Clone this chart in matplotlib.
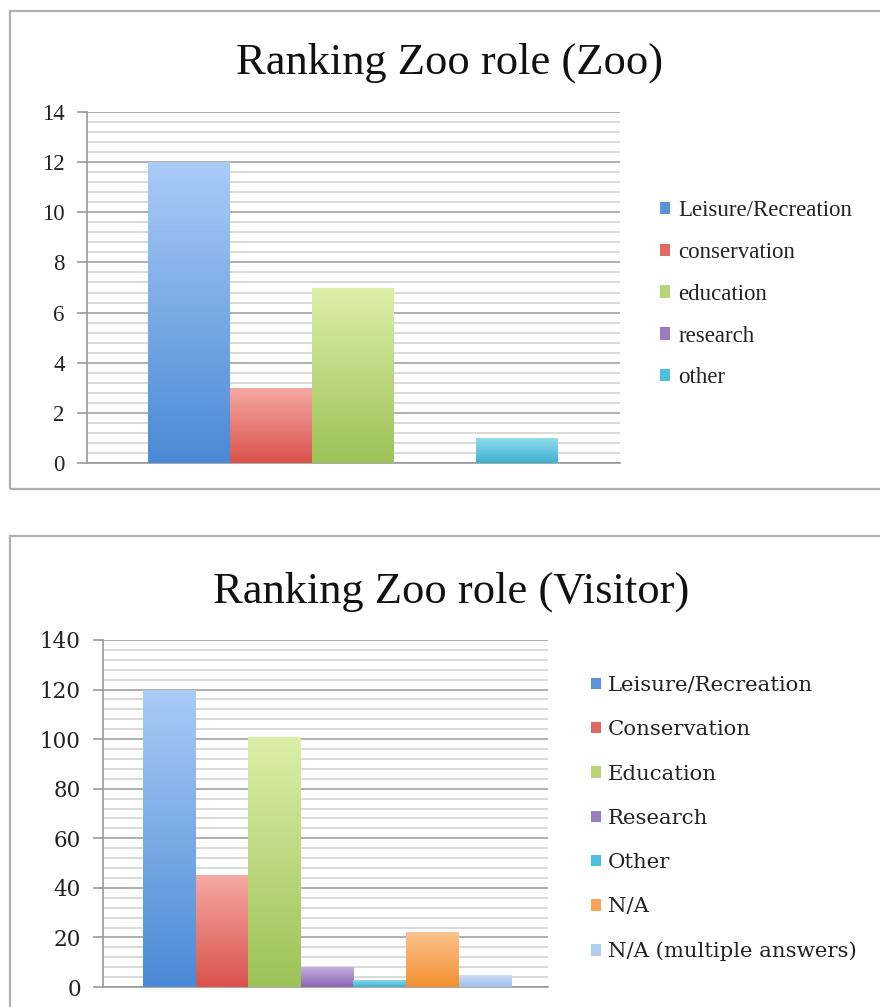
import numpy as np
import matplotlib.pyplot as plt
from matplotlib.colors import LinearSegmentedColormap
from matplotlib.patches import Rectangle
from matplotlib.ticker import MultipleLocator

# data
zoo_labels = ['Leisure/Recreation', 'conservation', 'education', 'research', 'other']
zoo_values = [12, 3, 7, 0, 1]

visitor_labels = ['Leisure/Recreation', 'Conservation', 'Education', 'Research',
                  'Other', 'N/A', 'N/A (multiple answers)']
visitor_values = [120, 45, 101, 8, 3, 22, 5]

# (top colour, bottom colour, legend colour)
zoo_colors = [('#a9cbf6', '#4a8ad6', '#5b93d8'),
              ('#f6a8a3', '#d9534b', '#e06a63'),
              ('#dcefa8', '#9dc257', '#b5d576'),
              ('#c4afde', '#8866b1', '#9c7cc0'),
              ('#95dcef', '#3eb2d0', '#4cc0dc')]
visitor_colors = zoo_colors + [('#fcc28d', '#f39131', '#f8a35a'),
                               ('#cfe0f8', '#a0bfea', '#b3cdf0')]

W, H = 880, 1007
fig = plt.figure(figsize=(W / 100, H / 100), dpi=100)


def fx(px):
    return px / W


def fy(py):
    return 1 - py / H


def draw_panel(ax, labels, values, colors, major, minor, ymax, pad_l, pad_r,
               font, tsize, lsize, leg_xy, leg_space):
    x = np.arange(len(values))
    bars = ax.bar(x, values, width=1.0, color=[c[2] for c in colors],
                  label=labels, zorder=3, linewidth=0)
    # vertical gradient on each bar
    for b, c in zip(bars, colors):
        h = b.get_height()
        if h <= 0:
            continue
        cmap = LinearSegmentedColormap.from_list('g', [c[1], c[0]])
        grad = np.linspace(0, 1, 100).reshape(-1, 1)
        im = ax.imshow(grad, cmap=cmap, origin='lower', aspect='auto',
                       extent=[b.get_x(), b.get_x() + b.get_width(), 0, h],
                       zorder=4)
        im.set_clip_path(b)
    ax.set_xlim(-0.5 - pad_l, len(values) - 0.5 + pad_r)
    ax.set_ylim(0, ymax)
    ax.yaxis.set_major_locator(MultipleLocator(major))
    ax.yaxis.set_minor_locator(MultipleLocator(minor))
    ax.grid(axis='y', which='major', color='#9a9a9a', lw=1.1, zorder=0)
    ax.grid(axis='y', which='minor', color='#cfcfcf', lw=1.1, zorder=0)
    ax.set_axisbelow(True)
    for s in ['top', 'right']:
        ax.spines[s].set_visible(False)
    for s in ['left', 'bottom']:
        ax.spines[s].set_color('#9a9a9a')
        ax.spines[s].set_linewidth(1.2)
    ax.set_xticks([])
    ax.tick_params(axis='y', which='major', length=7, width=1.2, color='#9a9a9a',
                   labelsize=tsize, pad=9)
    ax.tick_params(axis='y', which='minor', length=0)
    for t in ax.get_yticklabels():
        t.set_fontfamily(font)
        t.set_color('#222222')
    ax.legend(loc='upper left', bbox_to_anchor=leg_xy, bbox_transform=fig.transFigure,
              frameon=False, borderpad=0, borderaxespad=0, handlelength=0.45,
              handleheight=0.45, handletextpad=0.35, labelspacing=leg_space,
              prop={'family': font, 'size': lsize}, labelcolor='#222222')


# top panel
ax1 = fig.add_axes([fx(87), fy(463), fx(620 - 87), (463 - 112) / H])
draw_panel(ax1, zoo_labels, zoo_values, zoo_colors, 2, 0.4, 14, 0.744, 0.756,
           'Liberation Serif', 16.5, 16.5, (fx(660), fy(200)), 0.91)
fig.text(fx(450), fy(74), 'Ranking Zoo role (Zoo)', ha='center', va='baseline',
         fontsize=32, family='Liberation Serif', color='#111111')
fig.patches.append(Rectangle((fx(10), fy(489)), 1.0, (489 - 11) / H, fill=False,
                             ec='#b0b0b0', lw=1.6, transform=fig.transFigure))

# bottom panel
ax2 = fig.add_axes([fx(103), fy(987), fx(548 - 103), (987 - 640) / H])
draw_panel(ax2, visitor_labels, visitor_values, visitor_colors, 20, 4, 140, 0.76, 0.70,
           'DejaVu Serif', 15.5, 15.3, (fx(591), fy(676)), 1.19)
fig.text(fx(451), fy(603), 'Ranking Zoo role (Visitor)', ha='center', va='baseline',
         fontsize=32, family='Liberation Serif', color='#111111')
fig.patches.append(Rectangle((fx(10), fy(1100)), 1.0, (1100 - 536) / H, fill=False,
                             ec='#b0b0b0', lw=1.6, transform=fig.transFigure))

fig.savefig('out.png', dpi=100, facecolor='white')
